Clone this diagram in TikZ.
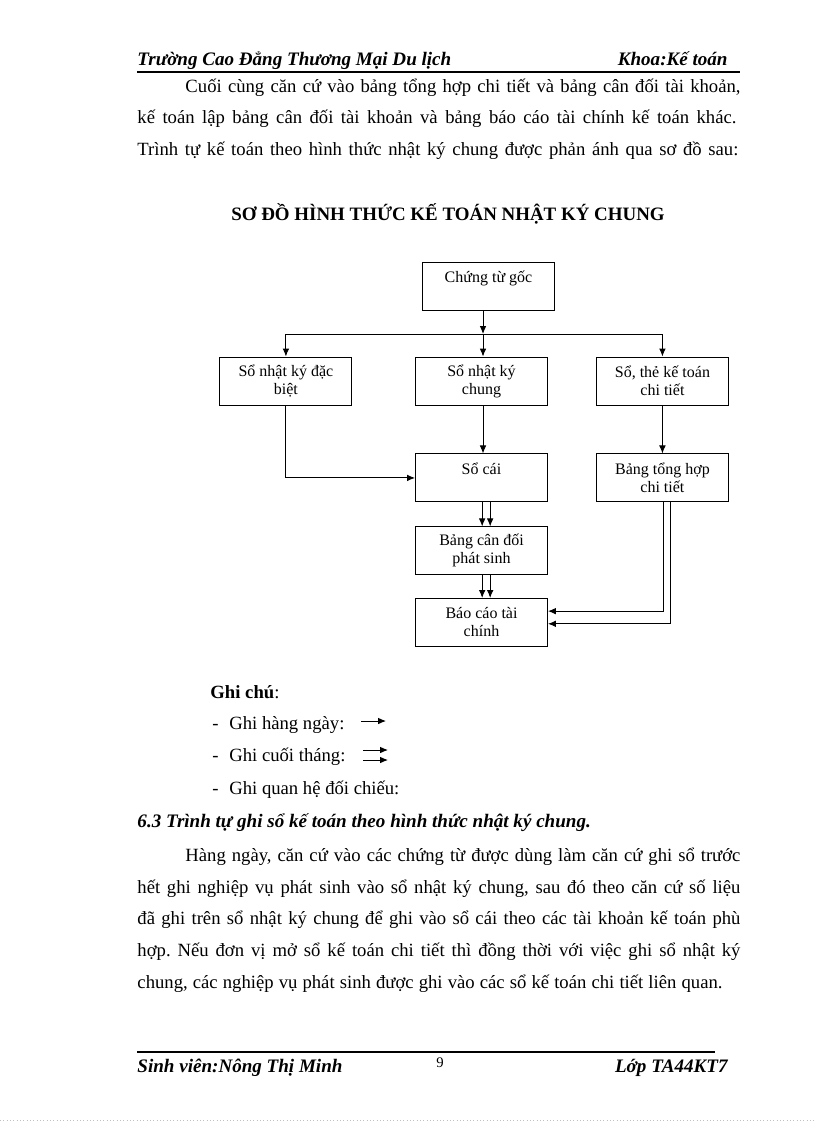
\documentclass[tikz,border=0pt]{standalone}
\usepackage{fontspec}
\setmainfont{Liberation Serif}
\usetikzlibrary{arrows.meta,positioning,calc}
\frenchspacing
\tikzset{
block/.style = {draw, fill=white, rectangle, minimum height=36pt, minimum width=99pt, inner sep=1pt, align=center, font=\fontsize{12}{13.5}\selectfont},
tmp/.style  = {coordinate},
txt/.style  = {anchor=base west, inner sep=0pt, font=\fontsize{14}{16}\selectfont},
hdr/.style  = {inner sep=0pt, font=\fontsize{14.3}{16}\selectfont\bfseries\itshape},
rule/.style = {line width=1.5pt}
}

\begin{document}
\begin{tikzpicture}[x=0.75pt, y=-0.75pt, node distance=36pt, >={Latex[length=6pt,width=5pt]}, line width=0.7pt]
  \useasboundingbox (0,0) rectangle (816,1123);

  % header
  \node [hdr, anchor=base west] (school) at (137,66) {Trường Cao Đẳng Thương Mại Du lịch};
  \node [hdr, anchor=base east] (khoa)   at (728,66) {Khoa:Kế toán};
  \coordinate (hl) at (137,72);
  \coordinate (hr) at (740,72);
  \draw [rule] (hl) -- (hr);

  % text above
  \node [txt] (l1) at (185,93)  {\makebox[416.25pt][s]{Cuối cùng căn cứ vào bảng tổng hợp chi tiết và bảng cân đối tài khoản,}};
  \node [txt] (l2) at (137,124) {\makebox[449.25pt][s]{kế toán lập bảng cân đối tài khoản và bảng báo cáo tài chính kế toán khác.}};
  \node [txt] (l3) at (137,156) {\makebox[450.75pt][s]{Trình tự kế toán theo hình thức nhật ký chung được phản ánh qua sơ đồ sau:}};
  \node [inner sep=0pt, anchor=base, font=\fontsize{14.2}{16}\selectfont\bfseries] (title) at (448,221) {SƠ ĐỒ HÌNH THỨC KẾ TOÁN NHẬT KÝ CHUNG};

  % diagram
  \node [block] (goc)   at (488.5,286) {Chứng từ gốc\\~};
  \node [block] (nkc)   at (481.5,381) {Sổ nhật ký\\chung};
  \node [block, left=47pt of nkc]  (nkdb) {Sổ nhật ký đặc\\biệt};
  \node [block, right=36pt of nkc] (ctiet) {Sổ, thẻ kế toán\\chi tiết};
  \node [block, below=of nkc]      (socai) {Sổ cái\\~};
  \node [block, below=of ctiet]    (bth)   {Bảng tổng hợp\\chi tiết};
  \node [block, below=18pt of socai] (bcd)  {Bảng cân đối\\phát sinh};
  \node [block, below=17pt of bcd]   (bctc) {Báo cáo tài\\chính};
  \node [tmp] (jn) at (483,334) {};

  \draw [->] (goc.south -| jn) -- (jn);
  \draw (nkdb.north |- jn) -- (ctiet.north |- jn);
  \draw [->] (nkdb.north |- jn) -- (nkdb.north);
  \draw [->] (jn) -- (jn |- nkc.north);
  \draw [->] (ctiet.north |- jn) -- (ctiet.north);
  \draw [->] (nkdb.south) |- (socai.west);
  \draw [->] (jn |- nkc.south) -- (jn |- socai.north);
  \draw [->] (ctiet.south) -- (bth.north);
  \draw [->] ([xshift=0.5pt]socai.south) -- ([xshift=0.5pt]bcd.north);
  \draw [->] ([xshift=6.5pt]socai.south) -- ([xshift=6.5pt]bcd.north);
  \draw [->] ([xshift=0.5pt]bcd.south) -- ([xshift=0.5pt]bctc.north);
  \draw [->] ([xshift=6.5pt]bcd.south) -- ([xshift=6.5pt]bctc.north);
  \draw [->] ([xshift=0.75pt]bth.south) |- ([yshift=8.5pt]bctc.east);
  \draw [->] ([xshift=6pt]bth.south) |- ([yshift=-1pt]bctc.east);

  % legend
  \node [txt] (gc) at (210,698) {\textbf{Ghi chú}:};
  \node [txt] (g1) at (212,729) {-\hspace{8pt}Ghi hàng ngày:};
  \node [txt] (g2) at (212,761) {-\hspace{8pt}Ghi cuối tháng:};
  \node [txt] (g3) at (212,794) {-\hspace{8pt}Ghi quan hệ đối chiếu:};
  \coordinate (a1) at (361,721);
  \coordinate (b1) at (386,721);
  \coordinate (a2) at (363,750);
  \coordinate (b2) at (388,750);
  \coordinate (a3) at (363,760);
  \coordinate (b3) at (388,760);
  \draw [->] (a1) -- (b1);
  \draw [->] (a2) -- (b2);
  \draw [->] (a3) -- (b3);

  % section
  \node [hdr, anchor=base west] (sec) at (137,827) {6.3 Trình tự ghi sổ kế toán theo hình thức nhật ký chung.};
  \node [txt] (p1) at (185,861) {\makebox[416.25pt][s]{Hàng ngày, căn cứ vào các chứng từ được dùng làm căn cứ ghi sổ trước}};
  \node [txt] (p2) at (137,893) {\makebox[452.25pt][s]{hết ghi nghiệp vụ phát sinh vào sổ nhật ký chung, sau đó theo căn cứ số liệu}};
  \node [txt] (p3) at (137,924) {\makebox[452.25pt][s]{đã ghi trên sổ nhật ký chung để ghi vào sổ cái theo các tài khoản kế toán phù}};
  \node [txt] (p4) at (137,956) {\makebox[452.25pt][s]{hợp. Nếu đơn vị mở sổ kế toán chi tiết thì đồng thời với việc ghi sổ nhật ký}};
  \node [txt] (p5) at (137,988) {\makebox[438.75pt][s]{chung, các nghiệp vụ phát sinh được ghi vào các sổ kế toán chi tiết liên quan.}};

  % footer
  \coordinate (fl) at (137,1052);
  \coordinate (fr) at (715,1052);
  \draw [rule] (fl) -- (fr);
  \node [hdr, anchor=base west] (sv)  at (137,1072) {Sinh viên:Nông Thị Minh};
  \node [inner sep=0pt, anchor=base, font=\fontsize{11}{12}\selectfont] (pg) at (440,1067) {9};
  \node [hdr, anchor=base east] (lop) at (728,1072) {Lớp TA44KT7};
  \coordinate (dl) at (0,1120);
  \coordinate (dr) at (816,1120);
  \draw [gray!50, dotted, line width=0.5pt] (dl) -- (dr);
\end{tikzpicture}
\end{document}
